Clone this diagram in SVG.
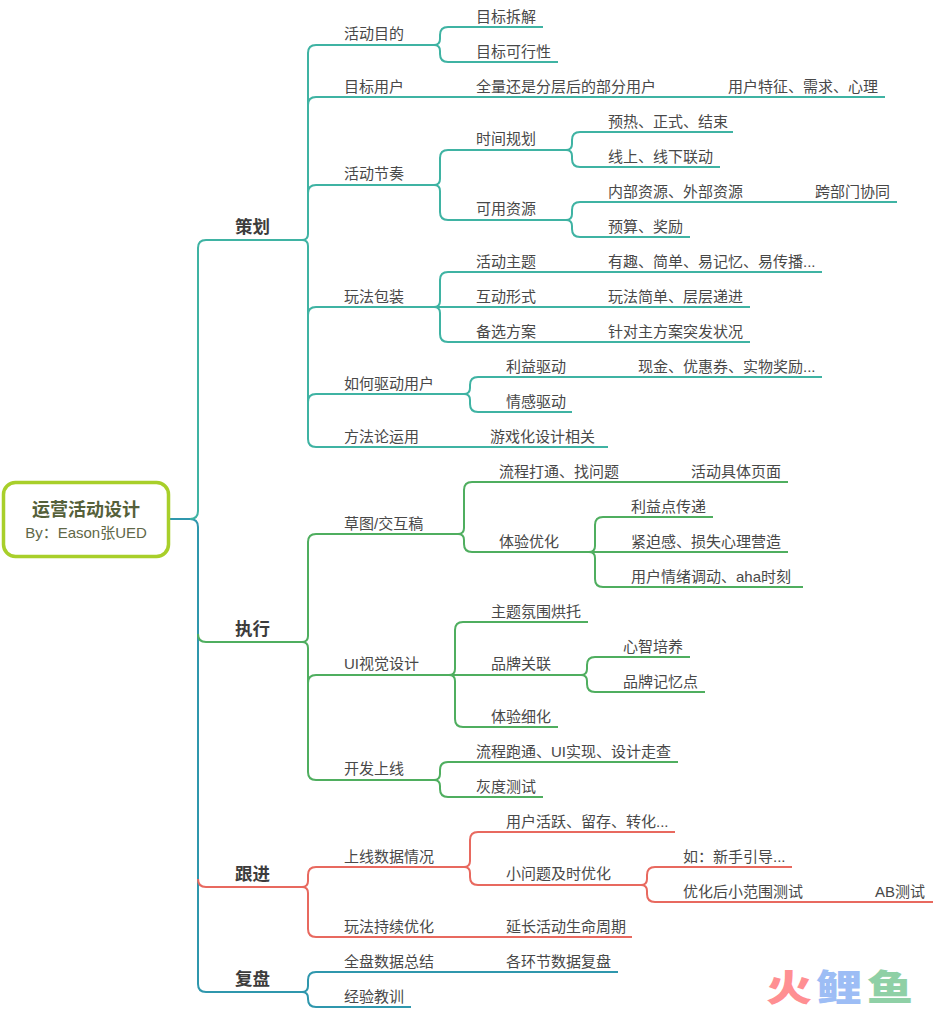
<svg xmlns="http://www.w3.org/2000/svg" width="936" height="1012" viewBox="0 0 936 1012">
<style>
text{font-family:"Liberation Sans","Noto Sans CJK SC",sans-serif;fill:#484848;font-size:15px}
.l1{font-size:17.5px;font-weight:700;fill:#3c3c3c}
.t{font-size:18px;font-weight:700;fill:#55603a;text-anchor:middle}
.s{font-size:15px;fill:#5f6848;text-anchor:middle}
path{fill:none;stroke-width:2}
.a{stroke:#3fb3a3}.g{stroke:#4fae5f}.r{stroke:#e8695f}.b{stroke:#2f97ad}
.wm{font-size:46px;font-weight:900}
</style>
<rect width="936" height="1012" fill="#fff"/>
<g id="connectors">
<path class="b" d="M170 519H190Q198 519 198 527V984Q198 992 206 992H302"/>
<path class="a" d="M190 519Q198 519 198 511V248Q198 240 206 240H302"/>
<path class="g" d="M198 634Q198 642 206 642H302"/>
<path class="r" d="M198 879Q198 887 206 887H302"/>
<path class="a" d="M302 240Q308 240 308 234V53Q308 45 316 45H434Q440 45 440 39V35Q440 27 448 27H543"/>
<path class="a" d="M434 45Q440 45 440 51V54Q440 62 448 62H558"/>
<path class="a" d="M308 105Q308 97 316 97H885"/>
<path class="a" d="M308 193Q308 185 316 185H434Q440 185 440 179V158Q440 150 448 150H566Q572 150 572 144V140Q572 132 580 132H733"/>
<path class="a" d="M566 150Q572 150 572 156V159Q572 167 580 167H720"/>
<path class="a" d="M434 185Q440 185 440 191V212Q440 220 448 220H566Q572 220 572 214V210Q572 202 580 202H897"/>
<path class="a" d="M566 220Q572 220 572 226V229Q572 237 580 237H690"/>
<path class="a" d="M302 240Q308 240 308 246V439Q308 447 316 447H608"/>
<path class="a" d="M308 315Q308 307 316 307H750"/>
<path class="a" d="M434 307Q440 307 440 301V280Q440 272 448 272H822"/>
<path class="a" d="M434 307Q440 307 440 313V334Q440 342 448 342H750"/>
<path class="a" d="M308 402Q308 394 316 394H464Q470 394 470 388V385Q470 377 478 377H822"/>
<path class="a" d="M464 394Q470 394 470 400V404Q470 412 478 412H572"/>
<path class="g" d="M302 642Q308 642 308 636V542Q308 534 316 534H458Q464 534 464 528V490Q464 482 472 482H788"/>
<path class="g" d="M458 534Q464 534 464 540V544Q464 552 472 552H589Q595 552 595 546V525Q595 517 603 517H713"/>
<path class="g" d="M589 552H788"/>
<path class="g" d="M589 552Q595 552 595 558V579Q595 587 603 587H803"/>
<path class="g" d="M302 642Q308 642 308 648V772Q308 780 316 780H434Q440 780 440 774V770Q440 762 448 762H678"/>
<path class="g" d="M434 780Q440 780 440 786V789Q440 797 448 797H543"/>
<path class="g" d="M308 683Q308 675 316 675H581Q587 675 587 669V665Q587 657 595 657H690"/>
<path class="g" d="M581 675Q587 675 587 681V684Q587 692 595 692H705"/>
<path class="g" d="M449 675Q455 675 455 669V630Q455 622 463 622H588"/>
<path class="g" d="M449 675Q455 675 455 681V719Q455 727 463 727H558"/>
<path class="r" d="M302 887Q308 887 308 881V875Q308 867 316 867H464Q470 867 470 861V840Q470 832 478 832H675"/>
<path class="r" d="M464 867Q470 867 470 873V877Q470 885 478 885H641Q647 885 647 879V875Q647 867 655 867H792"/>
<path class="r" d="M641 885Q647 885 647 891V894Q647 902 655 902H933"/>
<path class="r" d="M302 887Q308 887 308 893V929Q308 937 316 937H632"/>
<path class="b" d="M302 992Q308 992 308 986V980Q308 972 316 972H618"/>
<path class="b" d="M302 992Q308 992 308 998V999Q308 1007 316 1007H411"/>
</g>
<g id="root"><rect x="3.5" y="482.5" width="165" height="74" rx="12" fill="#fff" stroke="#a8cf2a" stroke-width="3.5"/><text class="t" x="86" y="516">运营活动设计</text><text class="s" x="86" y="538">By：Eason张UED</text></g>
<g id="nodes" transform="translate(-1,1)">
<g id="n1"><text class="l1" x="236" y="232">策划</text></g>
<g id="n2"><text class="l1" x="236" y="634">执行</text></g>
<g id="n3"><text class="l1" x="236" y="879">跟进</text></g>
<g id="n4"><text class="l1" x="236" y="984">复盘</text></g>
<g id="n5"><text x="345" y="38">活动目的</text></g>
<g id="n6"><text x="477" y="21">目标拆解</text></g>
<g id="n7"><text x="477" y="56">目标可行性</text></g>
<g id="n8"><text x="345" y="91">目标用户</text></g>
<g id="n9"><text x="477" y="91">全量还是分层后的部分用户</text></g>
<g id="n10"><text x="729" y="91">用户特征、需求、心理</text></g>
<g id="n11"><text x="345" y="178">活动节奏</text></g>
<g id="n12"><text x="477" y="143">时间规划</text></g>
<g id="n13"><text x="609" y="126">预热、正式、结束</text></g>
<g id="n14"><text x="609" y="161">线上、线下联动</text></g>
<g id="n15"><text x="477" y="213">可用资源</text></g>
<g id="n16"><text x="609" y="196">内部资源、外部资源</text></g>
<g id="n17"><text x="816" y="196">跨部门协同</text></g>
<g id="n18"><text x="609" y="231">预算、奖励</text></g>
<g id="n19"><text x="345" y="301">玩法包装</text></g>
<g id="n20"><text x="477" y="266">活动主题</text></g>
<g id="n21"><text x="609" y="266">有趣、简单、易记忆、易传播...</text></g>
<g id="n22"><text x="477" y="301">互动形式</text></g>
<g id="n23"><text x="609" y="301">玩法简单、层层递进</text></g>
<g id="n24"><text x="477" y="336">备选方案</text></g>
<g id="n25"><text x="609" y="336">针对主方案突发状况</text></g>
<g id="n26"><text x="345" y="388">如何驱动用户</text></g>
<g id="n27"><text x="507" y="371">利益驱动</text></g>
<g id="n28"><text x="639" y="371">现金、优惠券、实物奖励...</text></g>
<g id="n29"><text x="507" y="406">情感驱动</text></g>
<g id="n30"><text x="345" y="441">方法论运用</text></g>
<g id="n31"><text x="491" y="441">游戏化设计相关</text></g>
<g id="n32"><text x="345" y="528">草图/交互稿</text></g>
<g id="n33"><text x="500" y="476">流程打通、找问题</text></g>
<g id="n34"><text x="692" y="476">活动具体页面</text></g>
<g id="n35"><text x="500" y="546">体验优化</text></g>
<g id="n36"><text x="632" y="511">利益点传递</text></g>
<g id="n37"><text x="632" y="546">紧迫感、损失心理营造</text></g>
<g id="n38"><text x="632" y="581">用户情绪调动、aha时刻</text></g>
<g id="n39"><text x="345" y="668">UI视觉设计</text></g>
<g id="n40"><text x="492" y="616">主题氛围烘托</text></g>
<g id="n41"><text x="492" y="668">品牌关联</text></g>
<g id="n42"><text x="624" y="651">心智培养</text></g>
<g id="n43"><text x="624" y="686">品牌记忆点</text></g>
<g id="n44"><text x="492" y="721">体验细化</text></g>
<g id="n45"><text x="345" y="773">开发上线</text></g>
<g id="n46"><text x="477" y="756">流程跑通、UI实现、设计走查</text></g>
<g id="n47"><text x="477" y="791">灰度测试</text></g>
<g id="n48"><text x="345" y="861">上线数据情况</text></g>
<g id="n49"><text x="507" y="826">用户活跃、留存、转化...</text></g>
<g id="n50"><text x="507" y="878">小问题及时优化</text></g>
<g id="n51"><text x="684" y="861">如：新手引导...</text></g>
<g id="n52"><text x="684" y="896">优化后小范围测试</text></g>
<g id="n53"><text x="876" y="896">AB测试</text></g>
<g id="n54"><text x="345" y="931">玩法持续优化</text></g>
<g id="n55"><text x="507" y="931">延长活动生命周期</text></g>
<g id="n56"><text x="345" y="966">全盘数据总结</text></g>
<g id="n57"><text x="507" y="966">各环节数据复盘</text></g>
<g id="n58"><text x="345" y="1001">经验教训</text></g>
</g>
<g id="watermark"><text class="wm" transform="translate(766,1001) scale(1,.8)" style="fill:#ff8f92">火</text><text class="wm" transform="translate(816,1001) scale(1,.8)" style="fill:#9dbdf5">鲤</text><text class="wm" transform="translate(867,1001) scale(1,.8)" style="fill:#8fd0a6">鱼</text></g>
</svg>
